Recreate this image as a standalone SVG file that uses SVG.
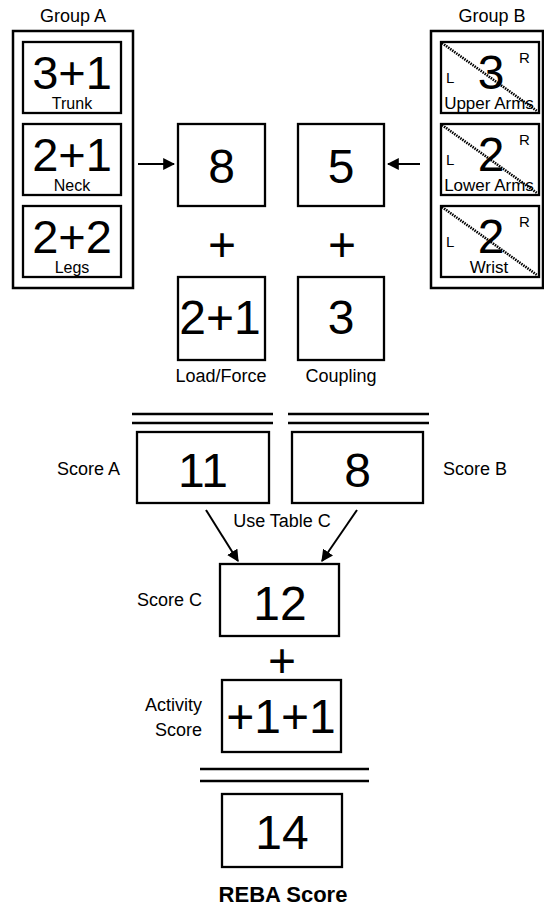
<svg xmlns="http://www.w3.org/2000/svg" width="544" height="909" viewBox="0 0 544 909">
<style>
text{font-family:"Liberation Sans",Arial,sans-serif;fill:#000}
.box{fill:#fff;stroke:#000;stroke-width:2.3}
.grp{fill:none;stroke:#000;stroke-width:2.5}
.big{font-size:48px;text-anchor:middle}
.gbig{font-size:47px;text-anchor:middle}
.sm{font-size:16px;text-anchor:middle}
.smb{font-size:17px;text-anchor:middle}
.lbl{font-size:18px}
.mid{text-anchor:middle}
.end{text-anchor:end}
.lr{font-size:15px}
.diag{stroke:#000;stroke-width:2.6;stroke-dasharray:1.5 1}
.ln{stroke:#000;stroke-width:2.5}
.arr{stroke:#000;stroke-width:2;fill:none}
</style>
<defs>
<marker id="ah" viewBox="0 0 10 10" refX="9" refY="5" markerWidth="6" markerHeight="6" orient="auto" markerUnits="strokeWidth">
<path d="M0,0 L10,5 L0,10 Z" fill="#000"/>
</marker>
</defs>

<g id="groupA">
<text class="lbl mid" x="73" y="22">Group A</text>
<rect class="grp" x="13" y="31" width="120" height="257"/>
</g>
<g id="trunk">
<rect class="box" x="23" y="42" width="98" height="71"/>
<text class="gbig" x="72" y="89">3+1</text>
<text class="sm" x="72" y="109">Trunk</text>
</g>
<g id="neck">
<rect class="box" x="23" y="124" width="98" height="71"/>
<text class="gbig" x="72" y="171">2+1</text>
<text class="sm" x="72" y="191">Neck</text>
</g>
<g id="legs">
<rect class="box" x="23" y="206" width="98" height="71"/>
<text class="gbig" x="72" y="253">2+2</text>
<text class="sm" x="72" y="273">Legs</text>
</g>

<g id="groupB">
<text class="lbl mid" x="492" y="22">Group B</text>
<rect class="grp" x="431" y="31" width="112" height="257"/>
</g>
<g id="upperArms">
<rect class="box" x="441" y="42" width="98" height="71"/>
<line class="diag" x1="442" y1="43" x2="537" y2="111"/>
<text class="big" x="491" y="89">3</text>
<text class="lr" x="519" y="63">R</text>
<text class="lr" x="446" y="83">L</text>
<text class="smb" x="489" y="109">Upper Arms</text>
</g>
<g id="lowerArms">
<rect class="box" x="441" y="124" width="98" height="71"/>
<line class="diag" x1="442" y1="125" x2="537" y2="193"/>
<text class="big" x="491" y="171">2</text>
<text class="lr" x="519" y="145">R</text>
<text class="lr" x="446" y="165">L</text>
<text class="smb" x="489" y="191">Lower Arms</text>
</g>
<g id="wrist">
<rect class="box" x="441" y="206" width="98" height="71"/>
<line class="diag" x1="442" y1="207" x2="537" y2="275"/>
<text class="big" x="491" y="253">2</text>
<text class="lr" x="519" y="227">R</text>
<text class="lr" x="446" y="247">L</text>
<text class="smb" x="489" y="273">Wrist</text>
</g>

<g id="scoreTrunkNeckLegs">
<rect class="box" x="178" y="124" width="87" height="82"/>
<text class="big" x="221.5" y="183">8</text>
</g>
<g id="scoreArmsWrist">
<rect class="box" x="298" y="124" width="86" height="82"/>
<text class="big" x="341" y="183">5</text>
</g>
<g id="plusLeft"><text class="big" x="222" y="261">+</text></g>
<g id="plusRight"><text class="big" x="342" y="261">+</text></g>
<g id="loadForce">
<rect class="box" x="178" y="277" width="87" height="83"/>
<text class="big" x="220" y="334">2+1</text>
<text class="lbl mid" x="221" y="382">Load/Force</text>
</g>
<g id="coupling">
<rect class="box" x="298" y="277" width="86" height="83"/>
<text class="big" x="341" y="334">3</text>
<text class="lbl mid" x="341" y="382">Coupling</text>
</g>

<g id="scoreA">
<line class="ln" x1="132" y1="414" x2="273" y2="414"/>
<line class="ln" x1="132" y1="423" x2="273" y2="423"/>
<rect class="box" x="137" y="432" width="132" height="71"/>
<text class="big" x="203" y="487">11</text>
<text class="lbl end" x="120" y="475">Score A</text>
</g>
<g id="scoreB">
<line class="ln" x1="288" y1="414" x2="429" y2="414"/>
<line class="ln" x1="288" y1="423" x2="429" y2="423"/>
<rect class="box" x="292" y="432" width="131" height="71"/>
<text class="big" x="357.5" y="487">8</text>
<text class="lbl" x="443" y="475">Score B</text>
</g>
<g id="useTableC"><text class="lbl mid" x="282" y="527">Use Table C</text></g>
<g id="scoreC">
<rect class="box" x="220" y="564" width="119" height="72"/>
<text class="big" x="280" y="620">12</text>
<text class="lbl end" x="202" y="606">Score C</text>
</g>
<g id="plusC"><text class="big" x="282" y="677">+</text></g>
<g id="activity">
<rect class="box" x="222" y="680" width="119" height="72"/>
<text class="big" x="281" y="733">+1+1</text>
<text class="lbl end" x="202" y="711">Activity</text>
<text class="lbl end" x="202" y="736">Score</text>
</g>
<g id="reba">
<line class="ln" x1="200" y1="769" x2="369" y2="769"/>
<line class="ln" x1="200" y1="781" x2="369" y2="781"/>
<rect class="box" x="222" y="794" width="120" height="73"/>
<text class="big" x="282" y="849">14</text>
<text x="283" y="902" class="mid" style="font-size:22px;font-weight:bold">REBA Score</text>
</g>

<g id="connectors">
<line class="arr" x1="138" y1="164" x2="174" y2="164" marker-end="url(#ah)"/>
<line class="arr" x1="420" y1="164" x2="388" y2="164" marker-end="url(#ah)"/>
<line class="arr" x1="206" y1="510" x2="238" y2="561" marker-end="url(#ah)"/>
<line class="arr" x1="357" y1="510" x2="322" y2="561" marker-end="url(#ah)"/>
</g>
</svg>
